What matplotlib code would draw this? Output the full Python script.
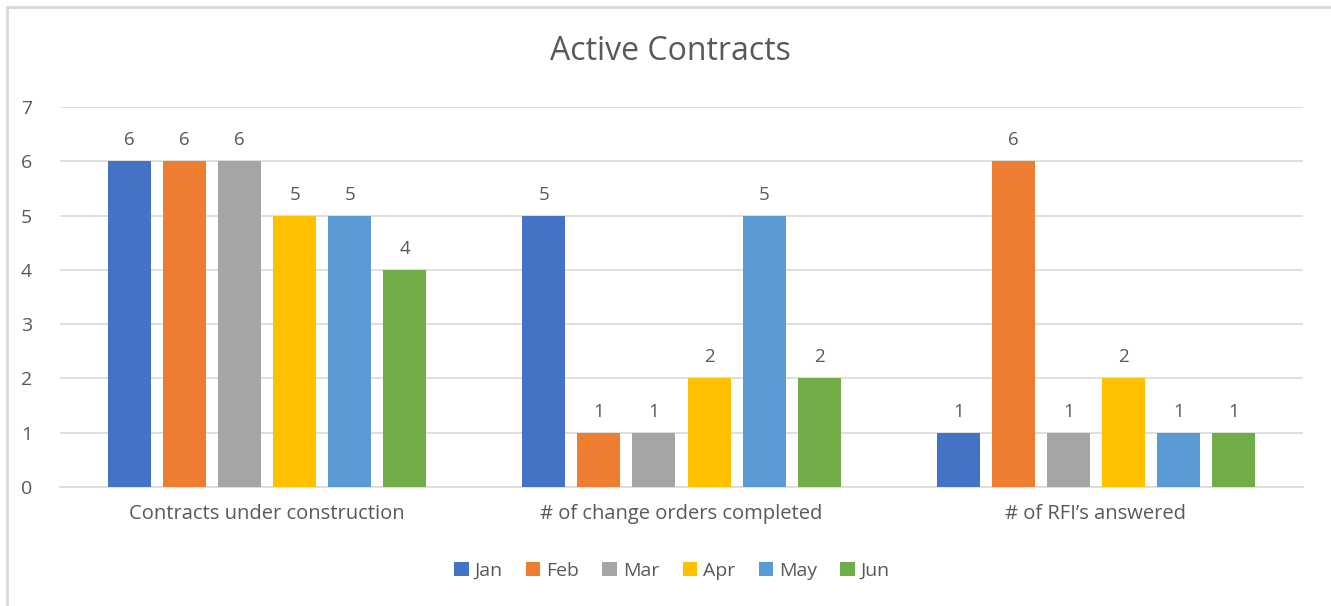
import numpy as np
import matplotlib.pyplot as plt
from matplotlib.patches import Rectangle

categories = ['Contracts under construction', '# of change orders completed', '# of RFI\u2019s answered']
months = ['Jan', 'Feb', 'Mar', 'Apr', 'May', 'Jun']
jan = [6, 5, 1]
feb = [6, 1, 6]
mar = [6, 1, 1]
apr = [5, 2, 2]
may = [5, 5, 1]
jun = [4, 2, 1]
series = [jan, feb, mar, apr, may, jun]
colors = ['#4472C4', '#ED7D31', '#A5A5A5', '#FFC000', '#5B9BD5', '#70AD47']

plt.rcParams['font.family'] = ['Open Sans', 'DejaVu Sans']
txt = '#595959'

fig = plt.figure(figsize=(13.31, 6.06), dpi=100)
ax = fig.add_axes([60 / 1331, 1 - 487 / 606, 1243 / 1331, 380 / 606])

# chart border (left/top visible)
fig.patches.append(Rectangle((7 / 1331, -0.1), 1.2, (606 - 7) / 606 + 0.1,
                             transform=fig.transFigure, fill=False,
                             edgecolor='#D9D9D9', lw=2))

x = np.arange(len(categories))
slot = 55 / 414
width = 43 / 414
for i, (vals, m, c) in enumerate(zip(series, months, colors)):
    pos = x + (i - 2.5) * slot
    bars = ax.bar(pos, vals, width, color=c, label=m, zorder=3)
    for b, v in zip(bars, vals):
        ax.text(b.get_x() + b.get_width() / 2, v + 0.22, str(v), ha='center',
                va='bottom', fontsize=13.5, color=txt)

ax.set_xlim(-0.5, 2.5)
ax.set_ylim(0, 7)
ax.set_yticks(range(8))
ax.yaxis.grid(True, color='#D9D9D9', lw=1.2, zorder=0)
ax.set_xticks(x)
ax.set_xticklabels(categories, fontsize=14.5, color=txt)
ax.tick_params(axis='y', labelsize=14, labelcolor=txt, length=0, pad=20)
ax.tick_params(axis='x', length=0, pad=12)
for s in ['top', 'right', 'left']:
    ax.spines[s].set_visible(False)
ax.spines['bottom'].set_color('#D9D9D9')
ax.spines['bottom'].set_linewidth(1.2)

fig.text(670 / 1331, 1 - 52 / 606, 'Active Contracts', ha='center', va='center',
         fontsize=23, color=txt)

fig.legend(loc='center', bbox_to_anchor=(672 / 1331, 1 - 571 / 606), ncol=6,
           frameon=False, fontsize=14, labelcolor=txt, handlelength=0.75,
           handleheight=0.75, handletextpad=0.3, columnspacing=1.2)

fig.savefig('out.png', dpi=100)
